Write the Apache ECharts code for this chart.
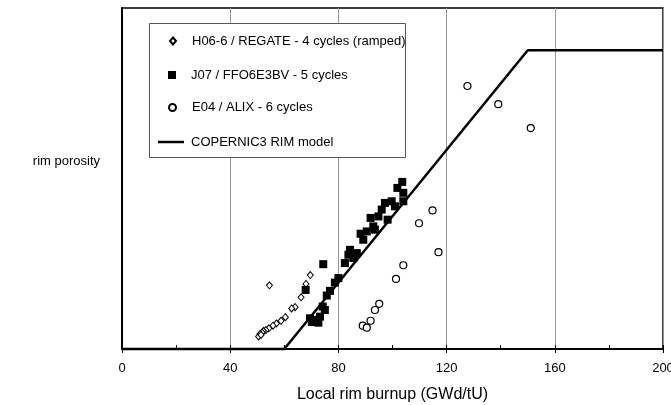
<!DOCTYPE html>
<html>
<head>
<meta charset="utf-8">
<script src="https://cdn.jsdelivr.net/npm/echarts@6/dist/echarts.min.js"></script>
<style>html,body{margin:0;padding:0;background:#fff}#c{width:671px;height:405px}</style>
</head>
<body>
<div id="c"></div>
<script>
// ---- data ----
const xTicks = [0, 40, 80, 120, 160, 200];
const seriesNames = ['H06-6 / REGATE - 4 cycles (ramped)', 'J07 / FFO6E3BV - 5 cycles', 'E04 / ALIX - 6 cycles', 'COPERNIC3 RIM model'];

const regateX = [54.5, 69.6, 68.0, 66.2, 64.0, 62.7, 60.4, 58.8, 57.1, 55.8, 54.3, 53.2, 52.3, 51.8, 51.0, 50.5, 51.4];
const regateY = [4.67, 5.42, 4.77, 3.79, 3.07, 2.97, 2.33, 2.07, 1.87, 1.71, 1.52, 1.39, 1.32, 1.21, 1.10, 0.92, 1.03];

const j07X = [74.4, 67.9, 80.0, 78.7, 76.9, 75.7, 75.0, 74.2, 69.5, 71.3, 72.6, 73.2, 70.2, 82.4, 83.7, 84.3, 85.5, 86.8, 88.2, 89.2, 90.5, 91.9, 92.9, 93.5, 94.8, 96.0, 97.2, 98.2, 99.7, 100.9, 101.8, 103.6, 104.0, 104.0];
const j07Y = [6.22, 4.33, 5.20, 4.87, 4.26, 3.92, 2.86, 3.11, 2.25, 2.13, 1.93, 2.37, 1.98, 6.30, 6.91, 7.27, 6.67, 7.03, 8.45, 8.01, 8.62, 9.61, 8.99, 8.75, 9.72, 10.22, 10.71, 9.48, 10.83, 10.46, 11.81, 12.25, 11.45, 10.83];

const alixX = [89.0, 90.5, 91.9, 93.5, 95.1, 101.3, 104.0, 109.8, 114.8, 117.0, 127.7, 139.1, 151.1];
const alixY = [1.71, 1.56, 2.07, 2.86, 3.31, 5.14, 6.14, 9.22, 10.16, 7.10, 19.28, 17.95, 16.20];

const modelX = [0, 60, 150, 200];
const modelY = [0, 0, 21.9, 21.9];

// ---- build ----
const pairs = (xs, ys) => xs.map((x, i) => [x, ys[i]]);
const FONT = '"Liberation Sans", Arial, sans-serif';

const chart = echarts.init(document.getElementById('c'), null, {renderer: 'canvas'});

// legend entries: icon centred near x=172, text starting at x=191
function legendFor(name, icon, centerY, w, h, left) {
  const pad = 191 - left - w - 5;
  return {
    data: [{name: name, icon: icon}], left: left, top: centerY - 7.5, orient: 'vertical', padding: 0,
    itemWidth: w, itemHeight: h, z: 10, symbolKeepAspect: false,
    textStyle: {fontFamily: FONT, fontSize: 13, color: '#000', padding: [0, 0, 0, pad]},
    selectedMode: false
  };
}

chart.setOption({
  animation: false,
  backgroundColor: '#fff',
  grid: {left: 122, right: 8, top: 8, bottom: 56, outerBoundsMode: 'none', containLabel: false,
         show: true, borderColor: '#000', borderWidth: 1.5, backgroundColor: 'transparent'},
  xAxis: [{
    type: 'value', min: 0, max: 200, interval: 40, position: 'bottom',
    axisLine: {show: true, onZero: false, lineStyle: {color: '#000', width: 2}},
    axisTick: {show: true, inside: false, length: 4, lineStyle: {color: '#000', width: 1}},
    axisLabel: {fontFamily: FONT, fontSize: 13, color: '#000', margin: 13, hideOverlap: false,
      formatter: v => xTicks.indexOf(v) >= 0 ? String(v) : ''},
    splitLine: {show: true, lineStyle: {color: '#999', width: 1}},
    name: 'Local rim burnup (GWd/tU)', nameLocation: 'middle', nameGap: 38,
    nameTextStyle: {fontFamily: FONT, fontSize: 16, color: '#000'}
  }, {
    type: 'value', min: 0, max: 200, interval: 20, position: 'bottom',
    axisLine: {show: false, onZero: false},
    axisTick: {show: true, inside: true, length: 4, lineStyle: {color: '#000', width: 1}},
    axisLabel: {show: false},
    splitLine: {show: false}
  }],
  yAxis: {
    type: 'value', min: 0, max: 25,
    axisLine: {show: true, onZero: false, lineStyle: {color: '#000', width: 2}},
    axisTick: {show: false}, axisLabel: {show: false}, splitLine: {show: false}
  },
  graphic: [
    {type: 'rect', shape: {x: 149.5, y: 23.5, width: 256, height: 134}, z: 5,
     style: {fill: '#fff', stroke: '#555', lineWidth: 1}},
    {type: 'text', right: 671 - 100, top: 155, z: 10,
     style: {text: 'rim porosity', font: '13px ' + FONT, fill: '#000'}}
  ],
  legend: [
    legendFor(seriesNames[0], 'diamond', 42, 6, 7, 169),
    legendFor(seriesNames[1], 'rect', 76, 8, 8, 168),
    legendFor(seriesNames[2], 'circle', 108.5, 7, 7, 168),
    legendFor(seriesNames[3], 'rect', 143, 26, 2.5, 158)
  ],
  series: [
    {name: seriesNames[0], type: 'scatter', symbol: 'diamond', symbolSize: [6, 7],
     itemStyle: {color: '#fff', borderColor: '#000', borderWidth: 1, opacity: 1},
     data: pairs(regateX, regateY), z: 3},
    {name: seriesNames[1], type: 'scatter', symbol: 'rect', symbolSize: 8,
     itemStyle: {color: '#000', opacity: 1},
     data: pairs(j07X, j07Y), z: 3},
    {name: seriesNames[2], type: 'scatter', symbol: 'circle', symbolSize: 7,
     itemStyle: {color: '#fff', borderColor: '#000', borderWidth: 1.2, opacity: 1},
     data: pairs(alixX, alixY), z: 3},
    {name: seriesNames[3], type: 'line', symbol: 'none', clip: false,
     lineStyle: {color: '#000', width: 2.5},
     itemStyle: {color: '#000'},
     data: pairs(modelX, modelY), z: 4}
  ]
});
</script>
</body>
</html>
